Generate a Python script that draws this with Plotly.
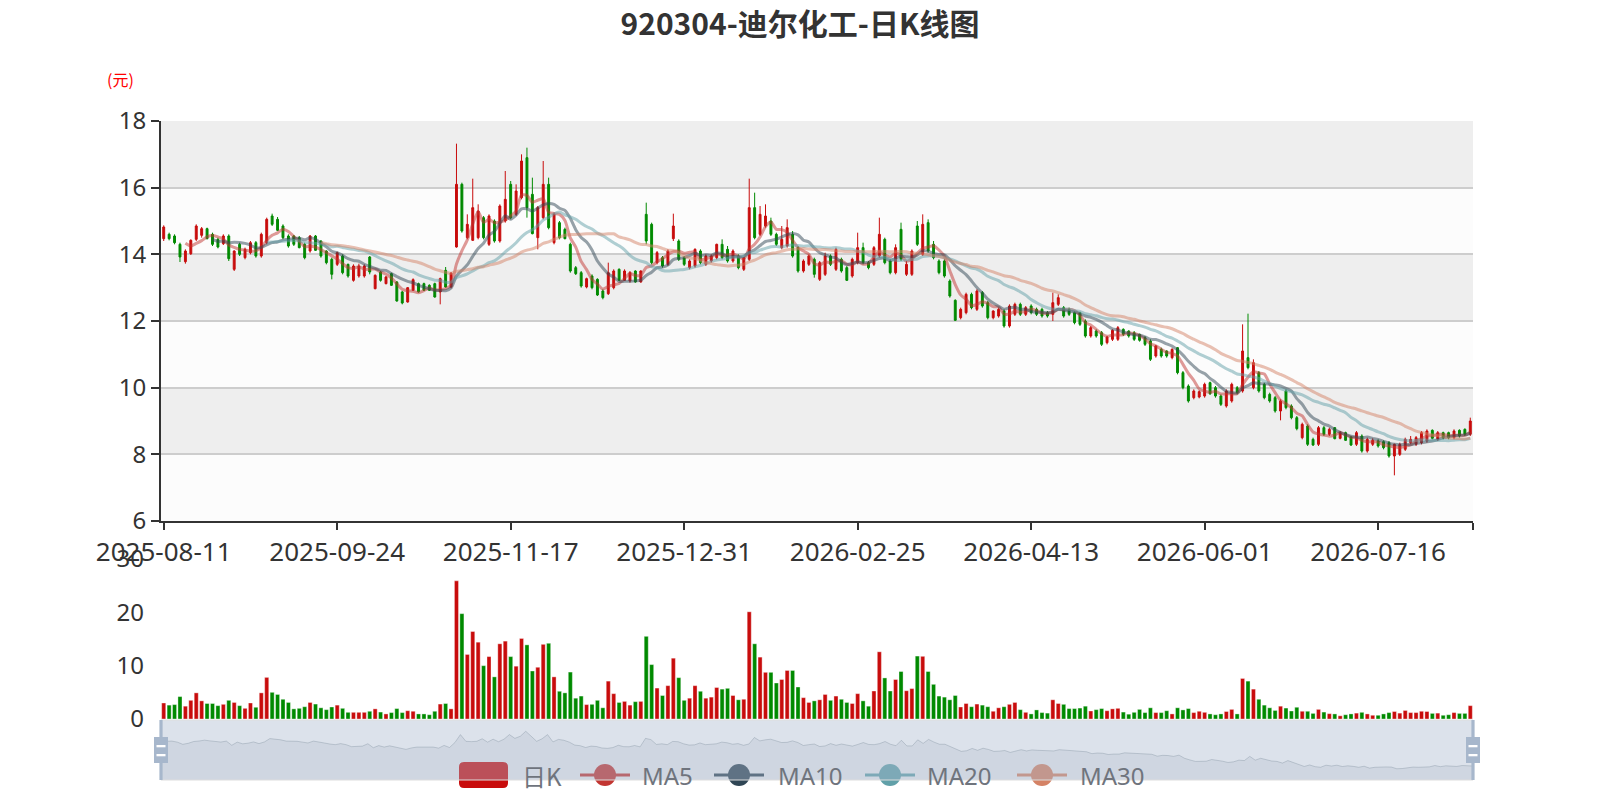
import plotly.graph_objects as go
import pandas as pd

# ---------------- data ----------------
OPEN = [14.47, 14.60, 14.55, 14.30, 13.78, 14.02, 14.45, 14.57, 14.77, 14.60,
        14.45, 14.32, 14.55, 13.55, 14.30, 13.90, 14.05, 14.35, 13.95, 14.35,
        15.15, 15.05, 14.85, 14.55, 14.55, 14.50, 14.30, 14.10, 14.55, 14.40,
        14.10, 13.85, 13.70, 13.95, 13.70, 13.22, 13.35, 13.35, 13.92, 12.97,
        13.47, 13.12, 13.42, 13.17, 12.87, 12.57, 12.92, 13.12, 13.12, 13.07,
        13.12, 12.87, 13.52, 13.02, 14.22, 16.10, 14.50, 14.42, 14.50, 15.10,
        14.30, 15.00, 14.40, 15.00, 16.10, 15.20, 15.70, 16.90, 15.80, 14.50,
        15.10, 16.10, 14.35, 14.95, 14.75, 14.30, 13.60, 13.45, 13.02, 13.35,
        13.25, 12.90, 12.82, 13.00, 13.55, 13.22, 13.20, 13.50, 13.17, 15.20,
        14.90, 13.75, 13.90, 13.70, 14.47, 14.40, 13.90, 13.60, 13.65, 14.10,
        13.70, 13.80, 13.90, 14.30, 14.15, 13.80, 13.95, 13.55, 13.85, 15.40,
        14.60, 14.85, 15.00, 14.60, 14.20, 14.25, 14.60, 14.20, 13.50, 13.70,
        13.85, 13.25, 13.40, 13.95, 13.55, 13.85, 13.60, 13.35, 13.75, 14.20,
        13.75, 13.70, 13.95, 14.45, 13.80, 13.45, 14.75, 13.40, 13.40, 14.85,
        14.00, 14.95, 14.30, 13.80, 13.80, 13.20, 12.62, 12.10, 12.25, 12.80,
        12.35, 12.85, 12.55, 12.10, 12.15, 12.30, 11.85, 12.20, 12.50, 12.20,
        12.45, 12.35, 12.35, 12.25, 12.20, 12.50, 12.40, 12.35, 12.25, 12.25,
        12.00, 11.55, 11.70, 11.65, 11.35, 11.45, 11.45, 11.75, 11.70, 11.65,
        11.60, 11.50, 11.40, 10.95, 11.15, 11.10, 10.90, 11.20, 10.45, 10.05,
        9.70, 9.72, 9.75, 10.15, 10.00, 9.75, 9.45, 9.60, 10.00, 9.90,
        10.90, 10.00, 10.45, 10.10, 9.80, 9.70, 9.30, 9.90, 9.45, 9.10,
        8.50, 8.85, 8.45, 8.30, 8.80, 8.60, 8.80, 8.48, 8.65, 8.52,
        8.30, 8.55, 8.10, 8.30, 8.40, 8.38, 8.35, 7.95, 8.00, 8.15,
        8.35, 8.30, 8.35, 8.40, 8.72, 8.45, 8.65, 8.65, 8.50, 8.72,
        8.75, 8.60]

CLOSE = [14.82, 14.47, 14.35, 13.92, 14.10, 14.42, 14.85, 14.77, 14.47, 14.30,
         14.22, 14.55, 13.87, 14.10, 14.00, 14.15, 14.35, 13.95, 14.60, 15.05,
         14.90, 14.72, 14.50, 14.25, 14.30, 14.20, 13.90, 14.55, 14.12, 13.95,
         13.75, 13.40, 14.05, 13.45, 13.35, 13.65, 13.65, 13.65, 13.47, 13.37,
         13.22, 13.32, 13.07, 12.60, 12.54, 13.00, 13.24, 12.87, 12.92, 12.92,
         12.72, 13.27, 13.02, 13.44, 16.10, 14.70, 14.90, 15.40, 15.30, 14.50,
         15.15, 14.40, 15.45, 15.65, 15.10, 15.90, 16.80, 15.40, 14.62, 15.40,
         16.10, 14.80, 15.20, 14.50, 14.47, 13.50, 13.42, 13.05, 13.27, 13.00,
         12.78, 12.70, 13.45, 13.50, 13.22, 13.50, 13.45, 13.17, 13.50, 14.40,
         13.75, 14.05, 13.65, 14.10, 14.85, 13.85, 13.70, 13.80, 14.15, 13.75,
         13.95, 13.95, 14.30, 13.90, 13.80, 14.10, 13.60, 13.90, 15.40, 14.50,
         15.20, 15.15, 14.60, 14.30, 14.45, 14.80, 13.95, 13.50, 13.80, 13.95,
         13.40, 13.75, 13.95, 13.70, 14.15, 13.50, 13.22, 13.85, 14.20, 13.75,
         13.60, 14.20, 14.60, 13.75, 13.45, 14.20, 13.85, 13.70, 14.10, 14.30,
         14.90, 14.10, 13.90, 13.45, 13.35, 12.75, 12.02, 12.35, 12.80, 12.40,
         12.90, 12.45, 12.10, 12.30, 12.35, 11.85, 12.45, 12.50, 12.20, 12.40,
         12.25, 12.20, 12.15, 12.15, 12.55, 12.70, 12.15, 12.20, 11.95, 11.90,
         11.55, 11.80, 11.55, 11.30, 11.52, 11.72, 11.80, 11.60, 11.55, 11.45,
         11.42, 11.30, 10.85, 11.25, 10.95, 10.95, 11.15, 10.45, 10.00, 9.60,
         9.90, 9.88, 10.10, 9.82, 9.75, 9.50, 9.90, 10.10, 9.85, 11.10,
         10.60, 10.75, 9.90, 9.70, 9.60, 9.30, 9.60, 9.40, 9.10, 8.77,
         8.90, 8.30, 8.28, 8.80, 8.60, 8.75, 8.47, 8.65, 8.42, 8.28,
         8.65, 8.10, 8.45, 8.42, 8.25, 8.20, 7.95, 8.30, 8.30, 8.45,
         8.45, 8.50, 8.65, 8.70, 8.48, 8.65, 8.50, 8.50, 8.70, 8.55,
         8.60, 9.00]

HIGH = [14.87, 14.65, 14.60, 14.35, 14.15, 14.45, 14.90, 14.82, 14.80, 14.65,
        14.50, 14.60, 14.60, 14.12, 14.35, 14.20, 14.40, 14.40, 14.65, 15.10,
        15.22, 15.12, 14.90, 14.60, 14.58, 14.55, 14.35, 14.58, 14.58, 14.42,
        14.12, 13.90, 14.08, 14.00, 13.72, 13.70, 13.72, 13.70, 13.95, 13.40,
        13.50, 13.35, 13.45, 13.20, 12.90, 13.02, 13.28, 13.15, 13.15, 13.10,
        13.15, 13.30, 13.62, 13.46, 17.32, 16.15, 15.20, 16.27, 15.50, 15.15,
        15.20, 15.05, 15.50, 16.50, 16.20, 16.10, 17.00, 17.20, 16.30, 15.45,
        16.80, 16.30, 15.25, 15.00, 14.80, 14.35, 13.65, 13.50, 13.30, 13.40,
        13.28, 12.95, 13.75, 13.55, 13.58, 13.55, 13.50, 13.52, 13.52, 15.55,
        14.95, 14.10, 13.95, 14.15, 15.22, 14.45, 13.95, 13.85, 14.18, 14.15,
        14.00, 14.00, 14.32, 14.45, 14.25, 14.15, 14.00, 13.92, 16.27, 15.85,
        15.45, 15.50, 15.10, 14.65, 14.85, 15.05, 14.70, 14.25, 13.85, 14.00,
        13.90, 13.80, 14.05, 14.00, 14.20, 13.90, 13.65, 13.90, 14.65, 14.35,
        13.80, 14.25, 15.10, 14.50, 13.85, 14.30, 14.95, 13.80, 14.15, 15.00,
        15.20, 15.05, 14.40, 13.85, 13.85, 13.25, 12.65, 12.40, 12.85, 12.85,
        12.95, 12.90, 12.60, 12.32, 12.40, 12.35, 12.50, 12.55, 12.55, 12.45,
        12.50, 12.40, 12.40, 12.30, 12.85, 12.80, 12.45, 12.40, 12.30, 12.28,
        12.05, 11.85, 11.75, 11.70, 11.55, 11.75, 11.85, 11.78, 11.72, 11.70,
        11.62, 11.55, 11.45, 11.28, 11.20, 11.12, 11.18, 11.22, 10.50, 10.10,
        9.95, 9.92, 10.15, 10.18, 10.05, 9.80, 9.95, 10.15, 10.05, 11.90,
        12.22, 10.85, 10.50, 10.15, 9.85, 9.75, 9.65, 9.95, 9.50, 9.15,
        8.95, 8.90, 8.50, 8.85, 8.85, 8.80, 8.82, 8.70, 8.68, 8.55,
        8.70, 8.60, 8.50, 8.48, 8.45, 8.42, 8.40, 8.32, 8.35, 8.50,
        8.55, 8.55, 8.70, 8.75, 8.75, 8.70, 8.68, 8.68, 8.75, 8.75,
        8.78, 9.10]

LOW = [14.40, 14.42, 14.30, 13.77, 13.72, 13.98, 14.40, 14.50, 14.45, 14.25,
       14.18, 14.28, 13.80, 13.50, 13.95, 13.85, 14.00, 13.90, 13.90, 14.30,
       14.85, 14.70, 14.45, 14.20, 14.25, 14.18, 13.85, 14.05, 14.10, 13.90,
       13.70, 13.25, 13.65, 13.40, 13.30, 13.18, 13.30, 13.30, 13.40, 12.95,
       13.18, 13.10, 13.05, 12.58, 12.50, 12.55, 12.90, 12.85, 12.90, 12.90,
       12.70, 12.50, 13.00, 12.98, 14.20, 14.65, 14.45, 14.40, 14.45, 14.45,
       14.25, 14.35, 14.35, 14.95, 15.05, 15.15, 15.65, 15.10, 14.60, 14.15,
       15.05, 14.75, 14.30, 14.45, 14.45, 13.45, 13.38, 13.00, 12.98, 12.95,
       12.75, 12.65, 12.78, 12.95, 13.20, 13.20, 13.15, 13.15, 13.15, 14.30,
       13.70, 13.70, 13.60, 13.65, 14.40, 13.80, 13.65, 13.55, 13.60, 13.70,
       13.65, 13.75, 13.85, 13.85, 13.75, 13.75, 13.55, 13.50, 13.80, 14.45,
       14.55, 14.80, 14.55, 14.25, 14.15, 14.20, 13.90, 13.45, 13.45, 13.65,
       13.30, 13.20, 13.35, 13.65, 13.50, 13.45, 13.20, 13.30, 13.70, 13.70,
       13.55, 13.65, 13.90, 13.70, 13.40, 13.40, 13.80, 13.35, 13.35, 14.25,
       13.95, 14.05, 13.85, 13.40, 13.30, 12.70, 12.00, 12.05, 12.20, 12.35,
       12.30, 12.40, 12.05, 12.05, 12.10, 11.80, 11.80, 12.15, 12.15, 12.15,
       12.20, 12.15, 12.10, 12.10, 12.00, 12.45, 12.10, 12.15, 11.90, 11.85,
       11.50, 11.50, 11.50, 11.25, 11.30, 11.40, 11.40, 11.55, 11.50, 11.40,
       11.38, 11.25, 10.80, 10.90, 10.90, 10.90, 10.85, 10.40, 9.95, 9.55,
       9.65, 9.68, 9.70, 9.78, 9.70, 9.45, 9.40, 9.55, 9.80, 9.85,
       10.55, 9.95, 9.85, 9.65, 9.55, 9.25, 9.02, 9.35, 9.05, 8.72,
       8.45, 8.25, 8.25, 8.25, 8.55, 8.55, 8.45, 8.45, 8.40, 8.25,
       8.25, 8.05, 8.05, 8.25, 8.20, 8.15, 7.90, 7.37, 7.95, 8.10,
       8.30, 8.25, 8.30, 8.35, 8.45, 8.40, 8.45, 8.45, 8.45, 8.50,
       8.55, 8.55]

VOLUME = [3.0, 2.6, 2.7, 4.2, 2.4, 3.5, 4.9, 3.4, 2.9, 2.9,
          2.5, 2.75, 3.5, 3.1, 2.5, 2.0, 3.0, 2.2, 4.9, 7.8,
          5.0, 4.6, 3.7, 3.1, 1.9, 2.0, 2.3, 3.1, 2.8, 2.1,
          1.75, 2.25, 2.6, 2.0, 1.25, 1.25, 1.25, 1.25, 1.45, 1.9,
          1.3, 0.95, 1.2, 1.95, 1.2, 1.55, 1.45, 0.95, 0.95, 0.8,
          1.45, 2.8, 2.9, 1.9, 25.9, 19.75, 12.1, 16.4, 14.4, 10.0,
          11.7, 7.9, 14.1, 14.6, 11.7, 9.9, 15.1, 13.9, 9.0, 9.7,
          14.0, 14.2, 7.9, 5.2, 4.9, 8.8, 3.9, 4.3, 2.7, 2.75,
          3.5, 2.1, 7.1, 4.75, 3.1, 3.3, 2.6, 3.25, 3.3, 15.5,
          10.2, 5.8, 4.4, 6.25, 11.4, 7.75, 3.5, 3.9, 6.25, 5.2,
          3.9, 4.1, 5.9, 5.6, 5.75, 4.4, 3.6, 3.7, 20.1, 14.1,
          11.6, 8.75, 8.75, 6.75, 7.4, 9.1, 9.1, 6.0, 4.0, 3.1,
          3.4, 3.6, 4.6, 3.5, 4.3, 3.7, 3.1, 2.9, 4.75, 3.4,
          2.4, 5.25, 12.6, 7.7, 5.25, 7.4, 8.9, 5.3, 5.7, 11.8,
          11.75, 8.9, 6.5, 4.3, 4.1, 3.6, 4.4, 2.25, 2.9, 2.3,
          2.8, 2.6, 2.3, 1.45, 2.1, 2.3, 2.75, 3.1, 1.75, 1.25,
          0.95, 1.7, 1.2, 1.1, 3.6, 2.9, 2.75, 1.95, 1.95, 2.05,
          2.4, 1.5, 1.75, 1.95, 1.55, 1.9, 2.0, 1.3, 0.9, 1.25,
          1.8, 1.2, 2.1, 1.2, 1.2, 1.55, 0.95, 2.1, 1.7, 1.95,
          1.2, 1.45, 1.25, 0.95, 0.8, 0.95, 1.4, 1.8, 0.95, 7.6,
          7.1, 5.6, 3.7, 2.6, 2.1, 1.6, 2.4, 2.05, 1.5, 2.2,
          1.45, 1.45, 1.05, 1.8, 1.3, 1.0, 0.95, 0.6, 0.8, 0.95,
          1.1, 1.25, 0.95, 0.7, 0.7, 0.95, 1.2, 1.4, 1.1, 1.6,
          1.2, 1.2, 1.45, 1.4, 1.05, 1.1, 0.7, 0.8, 1.2, 1.05,
          1.05, 2.5]

# exchange holidays (weekdays without trading) used to build the category axis
HOLIDAYS = ["2025-10-01", "2025-10-02", "2025-10-03", "2025-10-06", "2025-10-07",
            "2025-10-08", "2026-01-01", "2026-01-02", "2026-02-16", "2026-02-17",
            "2026-02-18", "2026-02-19", "2026-02-20", "2026-02-23", "2026-04-06",
            "2026-05-01", "2026-05-04", "2026-05-05", "2026-06-19"]
MA_PERIODS = [5, 10, 20, 30]
PRICE_TICKS = [6, 8, 10, 12, 14, 16, 18]
VOLUME_TICKS = [0, 10, 20, 30]
TITLE = "920304-迪尔化工-日K线图"
LABEL_STEP = 32

# ---------------- derived ----------------
N = len(CLOSE)
DATES = [d.strftime("%Y-%m-%d") for d in pd.bdate_range("2025-08-11", "2026-09-30")
         if d.strftime("%Y-%m-%d") not in HOLIDAYS][:N]
IDX = list(range(N))
close_s = pd.Series(CLOSE)
MA = {n: close_s.rolling(n).mean() for n in MA_PERIODS}

# ---------------- styling ----------------
W, H = 1600, 800
XL, XR = 161, 1473
RED = "#c80c0c"
GREEN = "#008a00"
MA_COLORS = ["rgba(194,53,49,0.5)", "rgba(47,69,84,0.5)", "rgba(97,160,168,0.5)", "rgba(212,130,101,0.5)"]
MA_SOLID = ["#c23531", "#2f4554", "#61a0a8", "#d48265"]
FONT = "Noto Sans, Noto Sans CJK SC, sans-serif"
CJK = "Noto Sans CJK SC, Noto Sans, sans-serif"


def PX(x):
    return (x - XL) / (XR - XL)


def PY(y):
    return (H - y) / H


vol_colors = [RED if c >= o else GREEN for o, c in zip(OPEN, CLOSE)]

fig = go.Figure()
fig.add_trace(go.Candlestick(
    x=IDX, open=OPEN, high=HIGH, low=LOW, close=CLOSE, name="日K",
    increasing=dict(line=dict(color=RED, width=1), fillcolor=RED),
    decreasing=dict(line=dict(color=GREEN, width=1), fillcolor=GREEN),
    whiskerwidth=0, showlegend=False, xaxis="x", yaxis="y", hoverinfo="skip"))
for n, col in zip(MA_PERIODS, MA_COLORS):
    fig.add_trace(go.Scatter(
        x=IDX, y=MA[n], mode="lines", name="MA%d" % n, showlegend=False,
        line=dict(color=col, width=3, shape="spline", smoothing=0.7),
        xaxis="x", yaxis="y", hoverinfo="skip"))
fig.add_trace(go.Bar(
    x=IDX, y=VOLUME, marker=dict(color=vol_colors, line=dict(color="rgba(255,255,255,0.45)", width=0.8)),
    showlegend=False, xaxis="x2", yaxis="y2", hoverinfo="skip"))
fig.add_trace(go.Scatter(
    x=IDX, y=OPEN, mode="lines", line=dict(color="rgba(47,69,84,0.35)", width=0.8),
    fill="tozeroy", fillcolor="rgba(47,69,84,0.10)", showlegend=False,
    xaxis="x3", yaxis="y3", hoverinfo="skip"))

omin, omax = min(OPEN), max(OPEN)
pad = (omax - omin) * 0.3

tickvals = IDX[::LABEL_STEP] + [N - 0.5]
ticktext = DATES[::LABEL_STEP] + [""]

shapes = []
# split areas
for k, lo in enumerate(PRICE_TICKS[:-1]):
    shapes.append(dict(type="rect", xref="paper", yref="y", x0=0, x1=1, y0=lo, y1=lo + 2,
                       fillcolor="#fcfcfc" if k % 2 == 0 else "#eeeeee", line=dict(width=0), layer="below"))

# manual legend (drawn beneath the slider)
LEG_Y = 775
def rrect(x0, y0, x1, y1, r):
    pts = ("M {a},{b} L {c},{b} Q {x1},{b} {x1},{d} L {x1},{e} Q {x1},{f} {c},{f} "
           "L {a},{f} Q {x0},{f} {x0},{e} L {x0},{d} Q {x0},{b} {a},{b} Z")
    return pts.format(a=PX(x0 + r), b=PY(y0), c=PX(x1 - r), d=PY(y0 + r), e=PY(y1 - r), f=PY(y1),
                      x0=PX(x0), x1=PX(x1))
shapes.append(dict(type="path", xref="paper", yref="paper", path=rrect(459, 762, 508, 788, 5),
                   fillcolor=RED, line=dict(width=0), layer="above"))
legend_items = [(580, 640, "MA5"), (714, 776, "MA10"), (865, 925, "MA20"), (1017, 1078, "MA30")]
annotations = [dict(text="日K", x=PX(520), y=PY(LEG_Y), xref="paper", yref="paper", xanchor="left",
                    yanchor="middle", showarrow=False, font=dict(family=CJK, size=24, color="#6f747d"))]
for (x0, tx, name), col in zip(legend_items, MA_SOLID):
    shapes.append(dict(type="line", xref="paper", yref="paper", x0=PX(x0), x1=PX(x0 + 50),
                       y0=PY(LEG_Y), y1=PY(LEG_Y), line=dict(color=col, width=3), layer="above"))
    shapes.append(dict(type="circle", xref="paper", yref="paper", x0=PX(x0 + 25 - 11), x1=PX(x0 + 25 + 11),
                       y0=PY(LEG_Y + 11), y1=PY(LEG_Y - 11), fillcolor=col, line=dict(width=0), layer="above"))
    annotations.append(dict(text=name, x=PX(tx), y=PY(LEG_Y), xref="paper", yref="paper", xanchor="left",
                            yanchor="middle", showarrow=False, font=dict(family=FONT, size=24, color="#6f747d")))

# slider filler + border
shapes.append(dict(type="rect", xref="paper", yref="paper", x0=PX(XL), x1=PX(XR), y0=PY(780), y1=PY(720),
                   fillcolor="rgba(167,183,204,0.4)", line=dict(color="#dddddd", width=1), layer="above"))
# slider handles
for hx in (XL, XR):
    shapes.append(dict(type="rect", xref="paper", yref="paper", x0=PX(hx - 1.6), x1=PX(hx + 1.6),
                       y0=PY(780), y1=PY(720), fillcolor="#a7b7cc", line=dict(width=0), layer="above"))
    shapes.append(dict(type="rect", xref="paper", yref="paper", x0=PX(hx - 7), x1=PX(hx + 7),
                       y0=PY(763), y1=PY(737), fillcolor="#a7b7cc", line=dict(width=0), layer="above"))
    for yy in (745, 754):
        shapes.append(dict(type="rect", xref="paper", yref="paper", x0=PX(hx - 4.5), x1=PX(hx + 4.5),
                           y0=PY(yy + 2.3), y1=PY(yy), fillcolor="#ffffff", line=dict(width=0), layer="above"))

annotations.append(dict(text="(元)", x=PX(120), y=PY(79), xref="paper", yref="paper", xanchor="center",
                        yanchor="middle", showarrow=False, font=dict(family=CJK, size=16, color="#ff0000")))

fig.update_layout(
    width=W, height=H,
    margin=dict(l=XL, r=W - XR, t=0, b=0, autoexpand=False),
    paper_bgcolor="white", plot_bgcolor="rgba(0,0,0,0)",
    title=dict(text="<b>%s</b>" % TITLE, x=0.5, xanchor="center", y=PY(24), yanchor="middle",
               font=dict(family=CJK, size=30, color="#333333")),
    showlegend=False, bargap=0.25, boxgap=0.5,
    font=dict(family=FONT, color="#333333"),
    xaxis=dict(domain=[0, 1], anchor="y", range=[-0.5, N - 0.5], showgrid=False, zeroline=False,
               showline=True, linecolor="#333333", linewidth=2, ticks="outside", ticklen=7, tickwidth=1.5,
               tickcolor="#333333", tickvals=tickvals, ticktext=ticktext, tickangle=0,
               tickfont=dict(size=26, color="#333333"), rangeslider=dict(visible=False), automargin=False),
    yaxis=dict(domain=[PY(521), PY(121)], anchor="x", range=[6, 18], tickvals=PRICE_TICKS,
               showgrid=True, gridcolor="#cdcdcd", gridwidth=2, zeroline=False, showline=True,
               linecolor="#333333", linewidth=2, ticks="outside", ticklen=8, tickwidth=1.5,
               tickcolor="#333333", tickfont=dict(size=24, color="#333333"), automargin=False),
    xaxis2=dict(domain=[0, 1], anchor="y2", range=[-0.5, N - 0.5], visible=False),
    yaxis2=dict(domain=[PY(719), PY(559)], anchor="x2", range=[0, 30], tickvals=VOLUME_TICKS,
                showgrid=False, zeroline=False, showline=False, ticks="", ticklabelstandoff=16,
                tickfont=dict(size=24, color="#333333"), automargin=False),
    xaxis3=dict(domain=[0, 1], anchor="y3", range=[0, N - 1], visible=False),
    yaxis3=dict(domain=[PY(780), PY(720)], anchor="x3", range=[omin - pad, omax + pad], visible=False),
    shapes=shapes, annotations=annotations,
)

fig.write_html("out.html", config={"displayModeBar": False},
               post_script="document.body.style.margin='0';document.body.style.padding='0';")
